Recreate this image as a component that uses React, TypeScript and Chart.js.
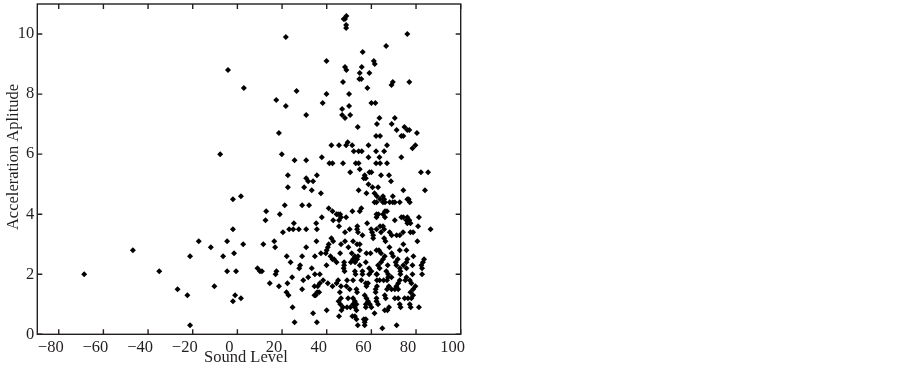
import React, { useEffect, useRef } from "react";
import { Chart, registerables } from "chart.js";

Chart.register(...registerables);

const xTickValues = [-80, -60, -40, -20, 0, 20, 40, 60, 80, 100];
const yTickValues = [0, 2, 4, 6, 8, 10];
const xLabel = "Sound Level";
const yLabel = "Acceleration Aplitude";

const lowLevelPoints = [
  [-68.6,2.0],[-46.8,2.8],[-35,2.1],[-26.8,1.5],[-22.4,1.3],[-21.2,0.3],[-21.2,2.6],[-17.3,3.1],[-11.9,2.9],[-10.3,1.6],
  [-6.4,2.6],[-4.6,3.1],[-4.6,2.1],[-2,4.5],[-2,3.5],[-1.5,2.7],[-2,1.1],[-1,1.3],[-0.6,2.1],[1.6,4.6],[1.6,1.2],[2.6,3.0],
  [-4.2,8.8],[-7.7,6.0],
];

const upperPoints = [
  [48.8,10.6],[48.2,10.5],[47.6,10.5],[48.7,10.3],[48.7,10.2],[21.7,9.9],[76.1,10.0],[66.6,9.6],[56.1,9.4],[39.9,9.1],
  [61.1,9.1],[61.5,9.0],[48.2,8.9],[55.7,8.9],[48.8,8.8],[54.8,8.7],[59.1,8.7],[54.6,8.5],[55.5,8.5],[47.3,8.4],
  [69.6,8.4],[69,8.3],[77,8.4],[58.2,8.2],[2.9,8.2],[26.5,8.1],[39.9,8.0],[50,8.0],[17.4,7.8],[60,7.7],
  [61.8,7.7],[38.2,7.7],[21.7,7.6],[50,7.6],[46.9,7.5],[30.8,7.3],[46.9,7.3],[50.5,7.3],[48.2,7.2],[63.6,7.2],
  [70.5,7.2],[62.5,7.0],[69.1,7.0],[53.9,6.9],[74.8,6.9],[71.3,6.8],[76.1,6.8],[77,6.8],[18.6,6.7],[80.4,6.7],
  [62.1,6.6],[63.9,6.6],[73.4,6.6],[74.3,6.6],[42.1,6.3],[45.5,6.3],[48.7,6.3],[49.4,6.4],[51.4,6.3],[58.7,6.3],
  [67,6.3],[79.7,6.3],[78.4,6.2],[52.1,6.1],[54.3,6.1],[55.7,6.1],[62.1,6.1],[65.7,6.1],[19.9,6.0],[37.8,5.9],
  [58.7,5.9],[63.6,5.9],[73.4,5.9],[25.6,5.8],[30.8,5.8],[41.2,5.7],[42.6,5.7],[47.3,5.7],[53,5.7],[54.3,5.7],
  [62.1,5.7],[63.9,5.7],[67,5.7],[54.8,5.5],[50.5,5.4],[59.1,5.4],[60,5.4],[82.2,5.4],[85.4,5.4],[22.6,5.3],
  [35.6,5.3],[57,5.3],[64.3,5.3],[67.9,5.3],[30.8,5.2],[56.6,5.2],[57.5,5.2],[31.7,5.1],[33.9,5.1],[68.8,5.1],
];

const middlePoints = [
  [58.7,5.0],[60.5,4.9],[63,4.9],[22.6,4.9],[29.9,4.9],[33.3,4.8],[54.3,4.8],[74.3,4.8],[84,4.8],[57.8,4.7],
  [37.4,4.7],[61.4,4.7],[65.2,4.6],[69.6,4.6],[62.5,4.6],[63.9,4.5],[65.7,4.5],[76.1,4.5],[61.4,4.4],[62.3,4.4],
  [65.2,4.4],[66.1,4.4],[68.2,4.4],[69.6,4.4],[70.5,4.4],[72.7,4.4],[77.2,4.4],[76.7,4.5],[21.2,4.3],[29,4.3],
  [32.1,4.3],[55.5,4.2],[54.8,4.1],[40.9,4.2],[42.6,4.1],[12.9,4.1],[19,4.0],[51.5,4.1],[45.1,4.0],[44.4,4.0],
  [46,4.0],[46.4,3.9],[48.7,3.9],[37.8,3.9],[62.3,4.0],[63.1,4.0],[65.2,4.0],[66.1,4.1],[67,4.1],[66.1,3.9],
  [62.3,3.9],[81.3,3.9],[73.4,3.9],[76.1,3.9],[42.9,3.8],[45.5,3.8],[12.6,3.8],[70.5,3.8],[74.3,3.9],[75.7,3.8],
  [77,3.8],[35.3,3.7],[58.1,3.7],[25.3,3.7],[77.5,3.7],[76.1,3.7],[80.9,3.6],[45.5,3.6],[53.7,3.6],[63.9,3.6],
  [65.2,3.6],[65.7,3.5],[23.2,3.5],[25,3.5],[27.5,3.5],[30.8,3.5],[35.6,3.5],[50.3,3.5],[53.6,3.5],[59.9,3.5],
  [62.3,3.5],[86.5,3.5],[78.7,3.4],[68.2,3.4],[74.2,3.4],[20.4,3.4],[48.2,3.4],[54,3.4],[60.3,3.4],[64.3,3.4],
  [77.5,3.4],[69.1,3.3],[71.3,3.3],[72.7,3.3],[56,3.3],[60.8,3.3],[42.1,3.2],[60.8,3.2],[65.7,3.2],[80.6,3.1],
  [35.4,3.1],[16.5,3.1],[42.9,3.1],[48.2,3.1],[51.8,3.1],[66.3,3.1],[54.8,3.0],[53.6,3.0],[46.4,3.0],[40.9,3.0],
  [11.6,3.0],[74.3,3.0],[16.9,2.9],[30.8,2.9],[68.1,2.9],[40.5,2.9],[49.7,2.9],[63.4,2.8],[54.8,2.8],[75.7,2.8],
  [72.7,2.8],[62.3,2.8],[40,2.8],[37.4,2.7],[39.6,2.7],[46,2.7],[51.2,2.7],[59.6,2.7],[64.3,2.7],[69.1,2.7],
  [57.8,2.7],
];

const lowerPoints = [
  [22.1,2.6],[29,2.6],[34.7,2.6],[41.7,2.6],[54,2.6],[52.6,2.6],[66,2.6],[69.7,2.6],[78.8,2.6],[42.6,2.5],
  [43.3,2.5],[51.8,2.5],[53.6,2.5],[65.2,2.5],[71.8,2.5],[76.1,2.5],[83.6,2.5],[44.4,2.4],[47.8,2.4],[52.7,2.4],
  [57.5,2.4],[64.3,2.4],[70.9,2.4],[75.7,2.4],[83.1,2.4],[23.8,2.4],[50.8,2.4],[39.9,2.3],[28.1,2.3],[47.8,2.3],
  [54.8,2.3],[63,2.3],[67.3,2.3],[71.2,2.3],[74.3,2.3],[78.4,2.3],[82.4,2.3],[9,2.2],[27.7,2.2],[33.3,2.2],
  [47.6,2.2],[63.7,2.2],[72.7,2.2],[75.7,2.2],[10.1,2.1],[11,2.1],[17.5,2.1],[52.6,2.1],[56,2.1],[59,2.2],
  [60,2.1],[66.7,2.1],[73,2.1],[48,2.1],[82.7,2.2],[17.1,2.0],[34.7,2.0],[36.9,2.0],[52.9,2.0],[56,2.0],
  [59,2.0],[62.5,2.0],[67.5,2.0],[73,2.0],[78.4,2.0],[82.7,2.0],[24.5,1.9],[31.7,1.9],[67.5,1.9],[69,1.9],
  [62.3,2.0],[75.7,1.9],[29.5,1.8],[38.4,1.8],[45.1,1.8],[49.1,1.8],[51.8,1.8],[55.5,1.8],[62.5,1.8],[63.7,1.8],
  [65.5,1.8],[67,1.8],[72.7,1.8],[75.2,1.8],[77.2,1.8],[14.5,1.7],[22.4,1.7],[36.9,1.7],[40.5,1.7],[44.4,1.7],
  [57.5,1.7],[58.5,1.7],[72,1.7],[77.9,1.7],[18.6,1.6],[34.5,1.6],[36,1.6],[42.6,1.6],[46.4,1.6],[48.8,1.6],
  [57.8,1.6],[62.5,1.6],[67.8,1.6],[71.2,1.6],[79.7,1.6],[29,1.5],[50.3,1.5],[53.3,1.5],[61.9,1.5],[67,1.5],
  [69,1.5],[70.5,1.5],[72,1.5],[78.7,1.5],[36.6,1.4],[22,1.4],[53.6,1.4],[35.7,1.4],[77.5,1.4],[22.9,1.3],
  [35.1,1.3],[45.9,1.4],[57,1.3],[61.9,1.4],[66,1.3],[78.7,1.3],[34.5,1.3],[46.4,1.2],[49.6,1.2],[51.8,1.2],
  [57.8,1.2],[62.3,1.2],[66.4,1.2],[70.5,1.2],[72,1.2],[74.9,1.2],[76.4,1.2],[77.9,1.2],[45.3,1.1],[52.6,1.1],
  [58.5,1.1],[62.3,1.1],[46.1,1.0],[51.8,1.0],[53.3,1.0],[57.5,1.0],[59.3,1.0],[63,1.0],[72.7,1.0],[77.2,1.0],
  [24.7,0.9],[47.3,0.9],[49.1,0.9],[50.6,0.9],[52.6,0.9],[60,0.9],[66,0.8],[67.9,0.9],[73.1,0.9],[77.6,0.9],
  [81.3,0.9],[40,0.8],[46.6,0.8],[53.3,0.8],[57.5,0.9],[67.2,0.8],[33.9,0.7],[61.4,0.7],[45.5,0.6],[51.5,0.6],
  [52.6,0.6],[53.3,0.5],[57.5,0.5],[56.6,0.5],[25.6,0.4],[35.6,0.4],[57,0.4],[53.9,0.3],[57,0.3],[64.9,0.2],
  [71.3,0.3],
];

const allPoints = [...lowLevelPoints, ...upperPoints, ...middlePoints, ...lowerPoints];
const INK = "#231f20";
const FONT = "'Liberation Serif', serif";

const framePlugin = {
  id: "frame",
  afterDatasetsDraw(chart: any) {
    const { ctx, chartArea: a, scales } = chart;
    ctx.save();
    ctx.strokeStyle = INK;
    ctx.lineWidth = 1.4;
    ctx.strokeRect(a.left, a.top, a.right - a.left, a.bottom - a.top);
    const len = 5;
    ctx.beginPath();
    for (const v of xTickValues) {
      const p = scales.x.getPixelForValue(v);
      ctx.moveTo(p, a.bottom); ctx.lineTo(p, a.bottom - len);
      ctx.moveTo(p, a.top); ctx.lineTo(p, a.top + len);
    }
    for (const v of yTickValues) {
      const p = scales.y.getPixelForValue(v);
      ctx.moveTo(a.left, p); ctx.lineTo(a.left + len, p);
      ctx.moveTo(a.right, p); ctx.lineTo(a.right - len, p);
    }
    ctx.stroke();
    ctx.fillStyle = INK;
    ctx.font = `16.5px ${FONT}`;
    ctx.textAlign = "center";
    ctx.textBaseline = "middle";
    ctx.fillText(xLabel, 246, 358);
    ctx.translate(13.5, 157);
    ctx.rotate(-Math.PI / 2);
    ctx.fillText(yLabel, 0, 0);
    ctx.restore();
  },
};

export default function App() {
  const ref = useRef<HTMLCanvasElement | null>(null);
  useEffect(() => {
    const chart = new Chart(ref.current as HTMLCanvasElement, {
      type: "scatter",
      data: {
        datasets: [{
          label: "Samples",
          data: allPoints.map(([x, y]) => ({ x, y })),
          pointStyle: "rectRot",
          pointRadius: 3,
          backgroundColor: "#000",
          borderWidth: 0,
        }],
      },
      options: {
        animation: false,
        responsive: false,
        layout: { padding: { top: 1.3, right: 903 - 460.7, left: 0, bottom: 0 } },
        plugins: { legend: { display: false }, tooltip: { enabled: false } },
        scales: {
          x: {
            type: "linear",
            min: -89.6,
            max: 100,
            afterBuildTicks: (s: any) => { s.ticks = xTickValues.map((value) => ({ value })); },
            afterFit: (s: any) => { s.height = 365 - 334.3; s.paddingLeft = 0; s.paddingRight = 0; },
            grid: { display: false, drawTicks: false },
            border: { display: false },
            ticks: { color: INK, font: { family: FONT, size: 16.5 }, padding: 3, labelOffset: -8, maxRotation: 0, autoSkip: false,
              callback: (v: any) => String(v).replace("-", "\u2212") },
          },
          y: {
            type: "linear",
            min: 0,
            max: 11,
            afterBuildTicks: (s: any) => { s.ticks = yTickValues.map((value) => ({ value })); },
            afterFit: (s: any) => { s.width = 37.3; s.paddingTop = 0; s.paddingBottom = 0; },
            grid: { display: false, drawTicks: false },
            border: { display: false },
            ticks: { color: INK, font: { family: FONT, size: 16.5 }, padding: 3 },
          },
        },
      },
      plugins: [framePlugin],
    } as any);
    return () => chart.destroy();
  }, []);
  return (
    <div style={{ position: "fixed", left: 0, top: 0, width: 903, height: 365, background: "#fff" }}>
      <canvas ref={ref} width={903} height={365} style={{ display: "block" }} />
    </div>
  );
}
